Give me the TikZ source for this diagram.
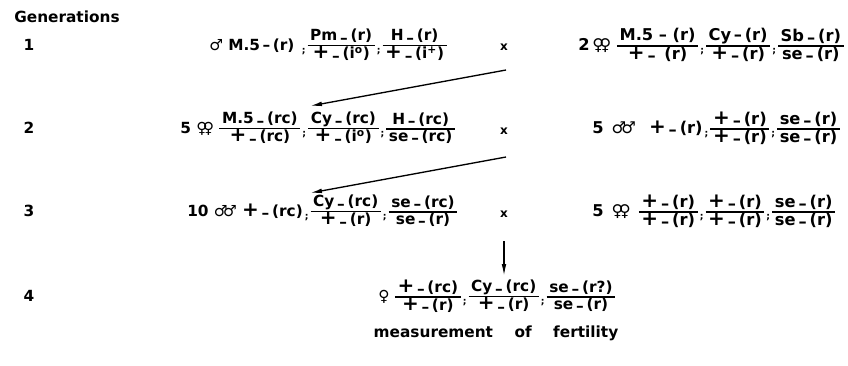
\documentclass[tikz,border=0pt]{standalone}
\usepackage{amsmath}
\usepackage{fontspec}
\setmainfont{DejaVu Sans}
\newfontfamily\sexfont{DejaVu Sans}
\usetikzlibrary{arrows.meta}
\newcommand{\male}{{\sexfont\char"2642}}
\newcommand{\fem}{{\sexfont\char"2640}}
\newcommand{\males}{{\sexfont\char"2642\kern-0.3em\char"2642}}
\newcommand{\fems}{{\sexfont\char"2640\kern-0.3em\char"2640}}
\newcommand{\pl}{{\fontsize{15}{15}\selectfont+}}
\newcommand{\ld}{\kern0.18em\raisebox{-0.3ex}{–}\kern0.18em}
\newcommand{\gt}[2]{$\vcenter{\hbox{\renewcommand\arraystretch{0.82}%
  \begin{tabular}{@{\kern2pt}c@{\kern2pt}}#1\\\noalign{\hrule height 1.1pt}#2\end{tabular}}}$}
\newcommand{\sep}{\kern1.5pt\raisebox{-0.4ex}{\scriptsize;}\kern1.5pt}

\begin{document}
\begin{tikzpicture}[x=0.75pt, y=-0.75pt, >={Latex[length=9pt,width=3.5pt]},
  font=\fontsize{11.5}{13}\selectfont\bfseries]
	\useasboundingbox (0,0) rectangle (848,365);
	\tikzset{geno/.style={anchor=west, inner sep=0pt},
		genoR/.style={geno, font=\fontsize{12.2}{13}\selectfont\bfseries},
		cross/.style={inner sep=1pt, font=\fontsize{9}{10}\selectfont\bfseries}}
	% generation numbers
	\node[anchor=west, inner sep=0pt] (gen) at (14,17) {Generations};
	\node (n1) at (29,45) {1};
	\node (n2) at (29,128) {2};
	\node (n3) at (29,211) {3};
	\node (n4) at (29,296) {4};
	% generation 1
	\node[geno] (m1) at (209,46) {\male\ M.5\,–\,(r)\ \sep\gt{Pm\ld(r)}{\pl\ld(i\textsuperscript{o})}\sep\gt{H\ld(r)}{\pl\ld(i\textsuperscript{+})}};
	\node[cross] (x1) at (504,47) {x};
	\node[genoR] (f1) at (578,46) {2\,\fems\ \gt{M.5 – (r)}{\pl\ld\ (r)}\sep\gt{Cy\,–\,(r)}{\pl\ld(r)}\sep\gt{Sb\ld(r)}{se\ld(r)}};
	% generation 2
	\node[geno] (f2) at (180,129) {5 \fems\ \gt{M.5\ld(rc)}{\pl\ld(rc)}\sep\gt{Cy\ld(rc)}{\pl\ld(i\textsuperscript{o})}\sep\gt{H\ld(rc)}{se\ld(rc)}};
	\node[cross] (x2) at (504,131) {x};
	\node[genoR] (m2) at (592,129) {5\hspace{0.5em}\males\hspace{0.8em}\pl\ld(r)\sep\gt{\pl\ld(r)}{\pl\ld(r)}\sep\gt{se\ld(r)}{se\ld(r)}};
	% generation 3
	\node[geno] (m3) at (187,212) {10 \males\ \pl\ld(rc)\sep\gt{Cy\ld(rc)}{\pl\ld(r)}\sep\gt{se\ld(rc)}{se\ld(r)}};
	\node[cross] (x3) at (504,214) {x};
	\node[genoR] (f3) at (592,212) {5\hspace{0.5em}\fems\hspace{0.5em}\gt{\pl\ld(r)}{\pl\ld(r)}\sep\gt{\pl\ld(r)}{\pl\ld(r)}\sep\gt{se\ld(r)}{se\ld(r)}};
	% generation 4
	\node[geno] (f4) at (378,297) {\fem\ \gt{\pl\ld(rc)}{\pl\ld(r)}\sep\gt{Cy\ld(rc)}{\pl\ld(r)}\sep\gt{se\ld(r?)}{se\ld(r)}};
	\node (fert) at (496,333) {measurement\hspace{1.4em}of\hspace{1.4em}fertility};
	% arrows
	\coordinate (a1s) at (506,70);
	\coordinate (a1e) at (310,106);
	\coordinate (a2s) at (506,157);
	\coordinate (a2e) at (310,193);
	\coordinate (a3s) at (504,241);
	\coordinate (a3e) at (504,276);
	\draw[->, line width=1pt] (a1s) -- (a1e);
	\draw[->, line width=1pt] (a2s) -- (a2e);
	\draw[->, line width=1pt] (a3s) -- (a3e);
\end{tikzpicture}
\end{document}
